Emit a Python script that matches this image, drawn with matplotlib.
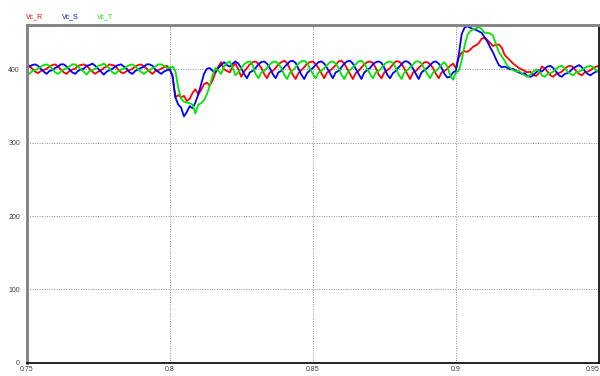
import numpy as np
import matplotlib
matplotlib.use('Agg')
import matplotlib.pyplot as plt

plt.rcParams['font.family'] = ['Liberation Sans', 'DejaVu Sans']

# время, мс (шаг 1 мс)
t_ms = np.arange(750, 951)

vc_r = [
    406, 405, 401, 397, 395, 398, 399, 401, 404, 406,
    407, 404, 400, 396, 394, 398, 400, 401, 405, 406,
    407, 405, 401, 397, 394, 397, 399, 402, 404, 407,
    406, 405, 400, 396, 395, 398, 399, 401, 404, 406,
    407, 404, 401, 397, 394, 398, 399, 401, 403, 405,
    401, 390, 362, 365, 362, 364, 357, 360, 368, 373,
    366, 372, 380, 382, 378, 385, 396, 404, 410, 400,
    398, 396, 404, 408, 400, 390, 397, 402, 407, 410,
    411, 408, 402, 394, 388, 396, 398, 402, 407, 410,
    412, 409, 401, 393, 387, 395, 399, 403, 408, 410,
    411, 407, 402, 395, 388, 396, 398, 402, 406, 411,
    412, 408, 401, 394, 387, 395, 398, 403, 407, 410,
    411, 409, 402, 393, 388, 396, 399, 402, 407, 411,
    411, 408, 401, 394, 387, 396, 398, 402, 406, 410,
    410, 407, 402, 394, 388, 396, 398, 401, 405, 408,
    402, 416, 423, 425, 424, 427, 431, 433, 436, 442,
    443, 440, 436, 432, 434, 434, 430, 420, 416, 412,
    408, 405, 402, 400, 398, 396, 397, 393, 391, 395,
    404, 402, 397, 392, 390, 394, 395, 397, 401, 404,
    405, 403, 398, 394, 392, 396, 397, 399, 402, 404,
    405,
]

vc_s = [
    401, 404, 406, 407, 405, 401, 397, 394, 398, 399,
    402, 404, 407, 407, 404, 400, 396, 394, 398, 400,
    401, 405, 406, 408, 405, 401, 397, 393, 397, 399,
    401, 404, 406, 407, 404, 401, 396, 394, 398, 400,
    402, 404, 407, 407, 405, 400, 397, 394, 397, 399,
    400, 392, 362, 352, 348, 336, 342, 350, 347, 355,
    366, 380, 394, 401, 402, 398, 396, 402, 406, 410,
    406, 404, 408, 411, 408, 402, 394, 388, 396, 398,
    402, 407, 410, 411, 408, 402, 394, 388, 396, 398,
    403, 407, 411, 412, 409, 401, 393, 387, 395, 399,
    402, 406, 410, 411, 408, 402, 395, 388, 396, 398,
    403, 408, 411, 412, 408, 401, 394, 387, 396, 399,
    402, 407, 410, 411, 409, 402, 393, 388, 395, 398,
    403, 407, 411, 411, 408, 401, 394, 387, 396, 399,
    402, 406, 410, 411, 408, 402, 394, 389, 390, 396,
    398, 420, 448, 457, 459, 457, 455, 454, 452, 450,
    444, 438, 430, 423, 414, 406, 403, 404, 402, 400,
    401, 398, 396, 394, 395, 391, 390, 392, 396, 399,
    397, 401, 404, 405, 402, 397, 392, 390, 394, 395,
    398, 402, 404, 406, 403, 398, 394, 392, 395, 397,
    399,
]

vc_t = [
    397, 394, 398, 399, 401, 404, 406, 407, 405, 401,
    396, 394, 397, 400, 402, 404, 407, 407, 404, 400,
    397, 393, 398, 399, 401, 405, 406, 408, 405, 401,
    396, 394, 398, 400, 401, 404, 406, 407, 404, 400,
    397, 394, 397, 399, 402, 404, 407, 407, 405, 402,
    402, 404, 398, 375, 360, 356, 355, 354, 352, 340,
    352, 354, 358, 366, 378, 392, 402, 398, 394, 404,
    409, 411, 402, 392, 396, 402, 407, 410, 411, 406,
    394, 388, 396, 398, 402, 407, 410, 411, 408, 402,
    393, 387, 395, 399, 403, 408, 411, 412, 409, 401,
    394, 388, 396, 398, 402, 406, 410, 411, 408, 402,
    393, 387, 395, 399, 403, 407, 411, 412, 408, 401,
    394, 388, 396, 398, 402, 407, 410, 411, 409, 402,
    393, 387, 396, 399, 403, 407, 411, 411, 408, 401,
    394, 388, 396, 398, 402, 407, 410, 404, 392, 386,
    396, 398, 412, 432, 447, 452, 455, 456, 458, 455,
    450, 450, 449, 446, 434, 424, 418, 412, 405, 402,
    399, 397, 398, 395, 392, 390, 393, 397, 400, 398,
    392, 390, 394, 395, 397, 401, 404, 405, 402, 397,
    394, 392, 396, 397, 399, 402, 404, 405, 403, 399,
    396,
]

x_ticks = [0.75, 0.8, 0.85, 0.9, 0.95]
x_labels = ['0.75', '0.8', '0.85', '0.9', '0.95']
y_ticks = [0, 100, 200, 300, 400]

t = t_ms / 1000.0

fig = plt.figure(figsize=(6.0, 3.76), dpi=100)
ax = fig.add_axes([0.0442, 0.0354, 0.9542, 0.8968])

ax.plot(t, vc_r, color='#ff0000', lw=1.3)
ax.plot(t, vc_s, color='#0000ff', lw=1.3)
ax.plot(t, vc_t, color='#00e600', lw=1.3)

ax.set_xlim(0.75, 0.95)
ax.set_ylim(0, 460)
ax.set_xticks(x_ticks)
ax.set_xticklabels(x_labels)
ax.set_yticks(y_ticks)
ax.tick_params(length=0, labelsize=5, colors='#404040')
ax.tick_params(axis='y', pad=4.7)
ax.tick_params(axis='x', pad=2.5)
ax.get_xticklabels()[-1].set_horizontalalignment('right')
ax.get_xticklabels()[-1].set_x(0.95)

ax.grid(True, color='#909090', lw=0.7, linestyle=(0, (1, 1.5)))

for side in ['left', 'top']:
    ax.spines[side].set_color('#808080')
    ax.spines[side].set_linewidth(2)
for side in ['right', 'bottom']:
    ax.spines[side].set_color('black')
    ax.spines[side].set_linewidth(1.2)

fig.text(0.044, 0.955, 'Vc_R', color='#ff0000', fontsize=5, va='center')
fig.text(0.104, 0.955, 'Vc_S', color='#0000ff', fontsize=5, va='center')
fig.text(0.162, 0.955, 'Vc_T', color='#00e600', fontsize=5, va='center')

fig.savefig('out.png', dpi=100)
